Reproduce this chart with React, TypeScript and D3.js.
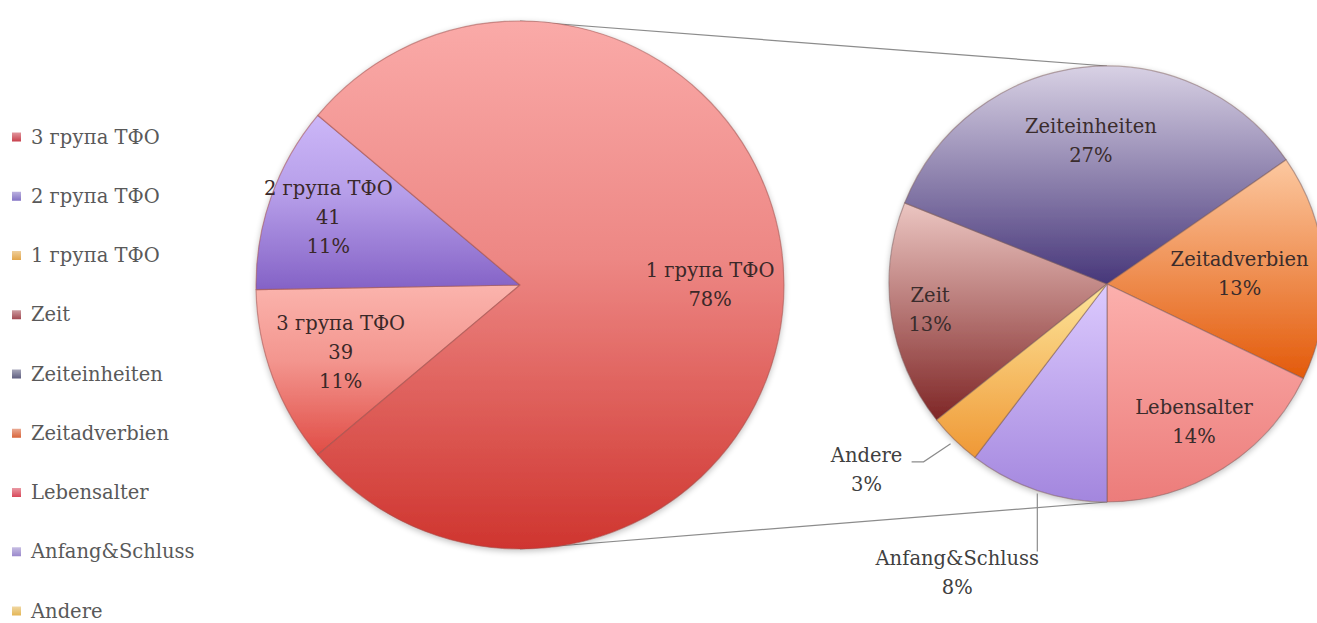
import React from 'react';
import * as d3 from 'd3';

// ---------- data ----------
const mainCategories = ['3 група ТФО', '2 група ТФО', '1 група ТФО'];
const mainValues = [39, 41, 280];
const subCategories = ['Zeit', 'Zeiteinheiten', 'Zeitadverbien', 'Lebensalter', 'Anfang&Schluss', 'Andere'];
const subValues = [47, 96, 47, 50, 29, 11];
const legendLabels = [...mainCategories, ...subCategories];

// ---------- styles ----------
const mainGradients = [
  ['#fbb4ad', '#e04c45'],
  ['#ccb7f8', '#8462c6'],
  ['#faaaa8', '#cf352f'],
];
const subGradients = [
  ['#ecc6c2', '#7f2626'],
  ['#d8d1e4', '#47377a'],
  ['#fcc8a0', '#e35a0a'],
  ['#fcb0ad', '#ec7c7a'],
  ['#dccafe', '#a386de'],
  ['#fde59a', '#ef9835'],
];
const legendColors = ['#c8404c', '#8372c4', '#e2a64a', '#a24a52', '#5e5e80', '#d8643a', '#d8485a', '#9a88cc', '#e4b655'];

const mainLabelR = [0.725, 0.77, 0.72];
const subLabelR = [0.82, 0.66, 0.61, 0.75, 1, 1];

const W = 1317;
const H = 623;
const mainCx = 520, mainCy = 285, mainR = 264;
const subCx = 1107, subCy = 284, subR = 218;
const FONT = '"DejaVu Serif", serif';
const FS = 19.5;
const LH = 29;

export default function App() {
  const total = d3.sum(mainValues);
  const splitIdx = 2;
  const aSplit = (mainValues[splitIdx] / total) * 2 * Math.PI;
  const mainStart = Math.PI / 2 + aSplit / 2 - 2 * Math.PI;

  const mainPie = d3
    .pie<number>()
    .sort(null)
    .startAngle(mainStart)
    .endAngle(mainStart + 2 * Math.PI)(mainValues);

  const subTotal = d3.sum(subValues);
  const beforeBottom = d3.sum(subValues.slice(0, 4));
  const subStart = Math.PI - (beforeBottom / subTotal) * 2 * Math.PI;
  const subPie = d3
    .pie<number>()
    .sort(null)
    .startAngle(subStart)
    .endAngle(subStart + 2 * Math.PI)(subValues);

  const mainArc = d3.arc<d3.PieArcDatum<number>>().innerRadius(0).outerRadius(mainR);
  const subArc = d3.arc<d3.PieArcDatum<number>>().innerRadius(0).outerRadius(subR);

  const pct = (v: number) => `${Math.round((v / total) * 100)}%`;
  const polar = (a: number, r: number) => [Math.sin(a) * r, -Math.cos(a) * r];
  const legendY = d3.scalePoint<string>().domain(legendLabels).range([137, 611]);

  const textBlock = (lines: string[], x: number, y: number, fill: string, key: string) => {
    const y0 = y - ((lines.length - 1) * LH) / 2;
    return (
      <text key={key} x={x} textAnchor="middle" fontFamily={FONT} fontSize={FS} fill={fill}>
        {lines.map((l, i) => (
          <tspan key={i} x={x} y={y0 + i * LH} dominantBaseline="central">
            {l}
          </tspan>
        ))}
      </text>
    );
  };

  return (
    <svg width={W} height={H} style={{ position: 'absolute', left: 0, top: 0, background: '#fff' }}>
      <defs>
        {mainGradients.map((g, i) => (
          <linearGradient key={'mg' + i} id={'mg' + i} x1="0" y1="0" x2="0" y2="1">
            <stop offset="0" stopColor={g[0]} />
            <stop offset="0.45" stopColor={d3.interpolateRgb(g[0], g[1])(0.3)} />
            <stop offset="1" stopColor={g[1]} />
          </linearGradient>
        ))}
        {subGradients.map((g, i) => (
          <linearGradient key={'sg' + i} id={'sg' + i} x1="0" y1="0" x2="0" y2="1">
            <stop offset="0" stopColor={g[0]} />
            <stop offset="1" stopColor={g[1]} />
          </linearGradient>
        ))}
        {legendColors.map((c, i) => (
          <linearGradient key={'lg' + i} id={'lg' + i} x1="0" y1="0" x2="0" y2="1">
            <stop offset="0" stopColor={d3.interpolateRgb(c, '#fff')(0.45)} />
            <stop offset="1" stopColor={c} />
          </linearGradient>
        ))}
        <filter id="shadow" x="-10%" y="-10%" width="120%" height="120%">
          <feGaussianBlur in="SourceAlpha" stdDeviation="3" />
          <feOffset dx="0" dy="2" result="b" />
          <feComponentTransfer>
            <feFuncA type="linear" slope="0.25" />
          </feComponentTransfer>
          <feMerge>
            <feMergeNode />
            <feMergeNode in="SourceGraphic" />
          </feMerge>
        </filter>
      </defs>

      {/* connector lines */}
      <line x1={mainCx} y1={mainCy - mainR} x2={subCx} y2={subCy - subR} stroke="#8c8c8c" strokeWidth={1.2} />
      <line x1={mainCx} y1={mainCy + mainR} x2={subCx} y2={subCy + subR} stroke="#8c8c8c" strokeWidth={1.2} />

      {/* main pie */}
      <g transform={`translate(${mainCx},${mainCy})`} filter="url(#shadow)">
        {mainPie.map((d, i) => (
          <path key={i} d={mainArc(d) || ''} fill={`url(#mg${i})`} stroke="#a0524f" strokeOpacity={0.55} strokeWidth={1.2} strokeLinejoin="round" />
        ))}
      </g>
      {mainPie.map((d, i) => {
        const mid = (d.startAngle + d.endAngle) / 2;
        const [x, y] = polar(mid, mainR * mainLabelR[i]);
        const lines = i === splitIdx ? [mainCategories[i], pct(d.value)] : [mainCategories[i], String(d.value), pct(d.value)];
        return textBlock(lines, mainCx + x, mainCy + y, '#3a2828', 'ml' + i);
      })}

      {/* second pie */}
      <g transform={`translate(${subCx},${subCy})`} filter="url(#shadow)">
        {subPie.map((d, i) => (
          <path key={i} d={subArc(d) || ''} fill={`url(#sg${i})`} stroke="#7a5a5a" strokeOpacity={0.5} strokeWidth={1.2} strokeLinejoin="round" />
        ))}
      </g>
      {subPie.map((d, i) => {
        const mid = (d.startAngle + d.endAngle) / 2;
        const lines = [subCategories[i], pct(d.value)];
        if (subLabelR[i] < 1) {
          const [x, y] = polar(mid, subR * subLabelR[i]);
          return textBlock(lines, subCx + x, subCy + y, '#3a2c2c', 'sl' + i);
        }
        const [ax, ay] = polar(mid, subR);
        const px = subCx + ax;
        const py = subCy + ay;
        if (subCategories[i] === 'Andere') {
          return (
            <g key={'sl' + i}>
              <polyline points={`${px - 4},${py + 4} ${px - 31},${py + 22} ${px - 43},${py + 22}`} fill="none" stroke="#8c8c8c" strokeWidth={1.2} />
              {textBlock(lines, px - 88, py + 30, '#404040', 'slt' + i)}
            </g>
          );
        }
        return (
          <g key={'sl' + i}>
            <line x1={px} y1={py + 3} x2={px} y2={py + 61} stroke="#8c8c8c" strokeWidth={1.2} />
            {textBlock(lines, px - 80, py + 82, '#404040', 'slt' + i)}
          </g>
        );
      })}

      {/* legend */}
      {legendLabels.map((l, i) => {
        const y = legendY(l) as number;
        return (
          <g key={'lg' + i}>
            <rect x={12} y={y - 4.5} width={9} height={9} fill={`url(#lg${i})`} />
            <text x={31} y={y} dominantBaseline="central" fontFamily={FONT} fontSize={FS} fill="#595959">
              {l}
            </text>
          </g>
        );
      })}
    </svg>
  );
}
